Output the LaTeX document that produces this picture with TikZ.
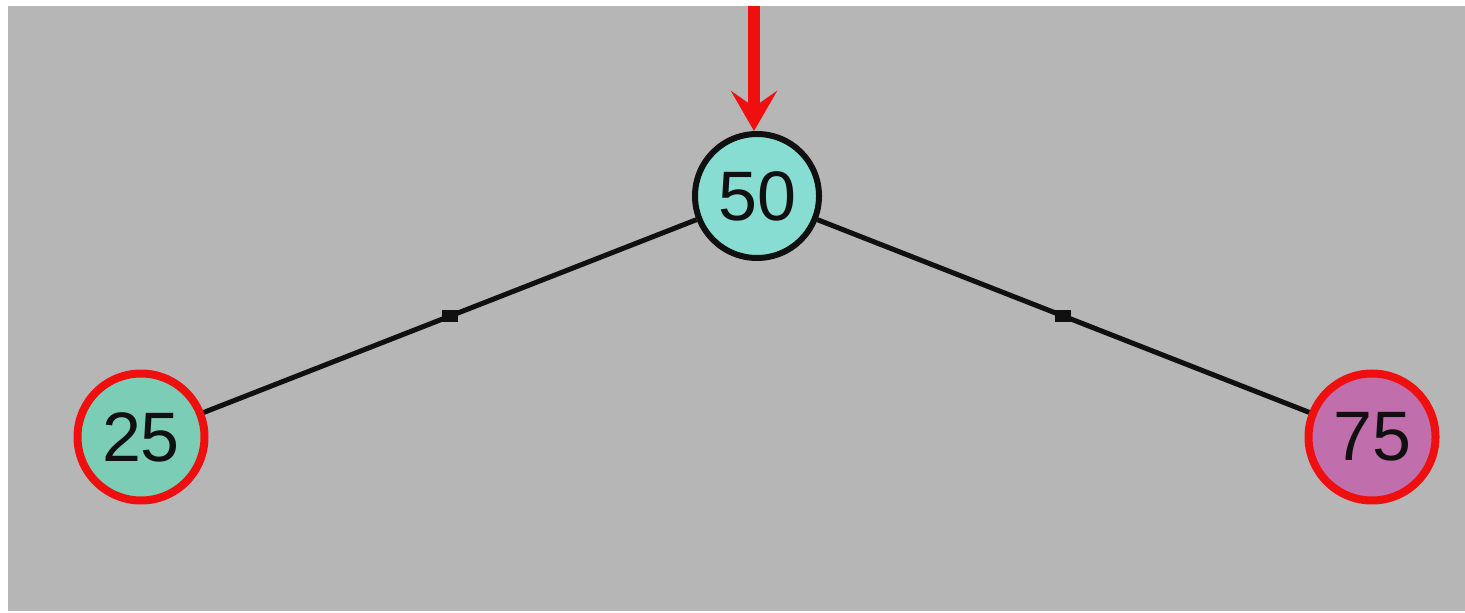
\documentclass[tikz,border=0pt]{standalone}
\usepackage{fontspec}
\setmainfont{Liberation Sans}
\usepackage{tikz}
\usetikzlibrary{arrows.meta}
\definecolor{bggray}{HTML}{B6B6B6}
\definecolor{keyred}{HTML}{F00F0F}
\definecolor{rootfill}{HTML}{88DDD2}
\definecolor{leftfill}{HTML}{7BCDB5}
\definecolor{rightfill}{HTML}{C06EAC}
\definecolor{inkblack}{HTML}{101010}

\begin{document}
\begin{tikzpicture}[x=0.5pt,y=-0.5pt,
  key/.style n args={2}{circle,draw=#1,fill=#2,inner sep=0pt,font=\fontsize{35}{40}\selectfont,text=inkblack},
  treeedge/.style={draw=inkblack,line width=2.5pt},
  midmark/.style={fill=inkblack,inner sep=0pt,minimum width=8pt,minimum height=6pt}]
\useasboundingbox (0,0) rectangle (1465,613);
\fill[bggray] (8,6) rectangle (1465,611);
\node[key={inkblack}{rootfill},line width=3pt,minimum size=62pt] (n50) at (757,196) {50};
\node[key={keyred}{leftfill},line width=4pt,minimum size=63.5pt] (n25) at (141,437) {25};
\node[key={keyred}{rightfill},line width=4pt,minimum size=63.5pt] (n75) at (1372,437) {75};
\draw[treeedge] (n50) -- node[midmark]{} (n25);
\draw[treeedge] (n50) -- node[midmark]{} (n75);
\coordinate (entry) at (754,6);
\draw[keyred,line width=6pt,-{Stealth[length=20pt,width=23pt,inset=8pt]}] (entry) -- (entry |- n50.north);
\end{tikzpicture}
\end{document}
